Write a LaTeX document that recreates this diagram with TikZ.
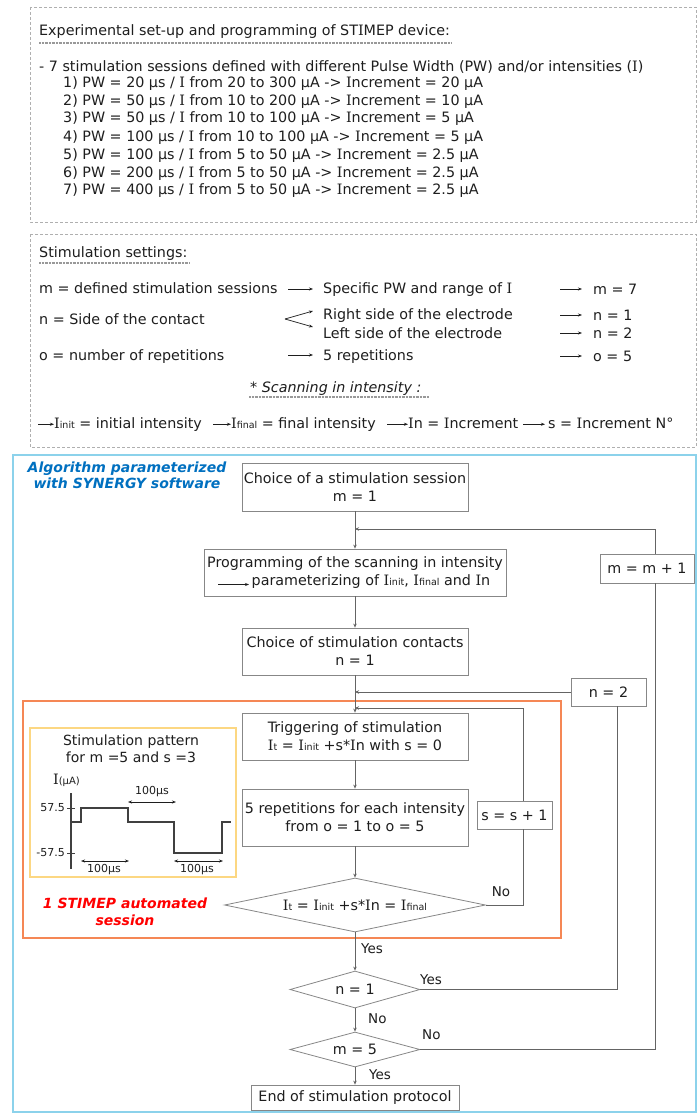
\documentclass[tikz,border=0pt]{standalone}
\usepackage{fontspec}
\setmainfont{DejaVu Sans}
\newfontfamily\serifI{DejaVu Serif}
\usetikzlibrary{arrows.meta,shapes.geometric,calc}
\definecolor{txt}{RGB}{30,30,30}
\definecolor{boxgray}{RGB}{135,135,135}
\definecolor{linegray}{RGB}{100,100,100}
\definecolor{dashgray}{RGB}{175,175,175}
\definecolor{skyb}{RGB}{140,210,235}
\definecolor{orng}{RGB}{245,135,85}
\definecolor{yell}{RGB}{252,215,130}
\definecolor{algblue}{RGB}{0,112,192}
\newcommand\fs{\fontsize{14.3}{18}\selectfont}
\newcommand\VI{{\serifI I}}
\newcommand\Isub[1]{\VI{\fontsize{9.5}{11}\selectfont #1}}
\begin{document}
\begin{tikzpicture}[x=1pt,y=-1pt,
  txtn/.style={anchor=base west,inner sep=0pt,font=\fs,text=txt,text height=10.5pt,text depth=3pt},
  fbox/.style={draw=boxgray,line width=0.8pt,font=\fs,text=txt,align=center,inner sep=0pt},
  fdia/.style={diamond,draw=boxgray,line width=0.8pt,font=\fs,text=txt,inner sep=0pt},
  conn/.style={draw=linegray,line width=0.8pt},
  arr/.style={conn,-{Stealth[length=4pt,width=3.5pt]}},
  sarr/.style={draw=txt,line width=0.7pt,-{Stealth[length=4pt,width=3pt]}},
  darr/.style={draw=txt,line width=0.7pt,{Stealth[length=4pt,width=3pt]}-{Stealth[length=4pt,width=3pt]}},
  dbox/.style={draw=dashgray,line width=0.7pt,dash pattern=on 3pt off 2pt},
  uline/.style={draw=gray!80,line width=1.3pt,dash pattern=on 0.8pt off 0.6pt},
  lbl/.style={inner sep=0pt,font=\fontsize{13.5}{16}\selectfont,text=txt},
  small/.style={inner sep=0pt,font=\fontsize{11}{13}\selectfont,text=txt}
]
\useasboundingbox (0,0) rectangle (697,1113);
\fill[white] (0,0) rectangle (697,1113);

% ---------- box 1
\draw[dbox] (30,7) rectangle (696,222);
\node[txtn] (h1) at (39,36) {Experimental set-up and programming of ST\VI MEP device:};
\draw[uline] (39,43) -- (451,43);
\node[txtn] (l0) at (39,72) {- 7 stimulation sessions defined with different Pulse Width (PW) and/or intensities (\VI)};
\node[txtn] (l1) at (63,88) {1) PW = 20 µs / \VI{} from 20 to 300 µA -> \VI ncrement = 20 µA};
\node[txtn] (l2) at (63,106) {2) PW = 50 µs / \VI{} from 10 to 200 µA -> \VI ncrement = 10 µA};
\node[txtn] (l3) at (63,123) {3) PW = 50 µs / \VI{} from 10 to 100 µA -> \VI ncrement = 5 µA};
\node[txtn] (l4) at (63,141) {4) PW = 100 µs / \VI{} from 10 to 100 µA -> \VI ncrement = 5 µA};
\node[txtn] (l5) at (63,159) {5) PW = 100 µs / \VI{} from 5 to 50 µA -> \VI ncrement = 2.5 µA};
\node[txtn] (l6) at (63,177) {6) PW = 200 µs / \VI{} from 5 to 50 µA -> \VI ncrement = 2.5 µA};
\node[txtn] (l7) at (63,194) {7) PW = 400 µs / \VI{} from 5 to 50 µA -> \VI ncrement = 2.5 µA};

% ---------- box 2
\draw[dbox] (30,234) rectangle (696,447);
\node[txtn] (s0) at (39,257) {Stimulation settings:};
\draw[uline] (39,263) -- (189,263);
\node[txtn] (m0) at (39,293) {m = defined stimulation sessions};
\node[txtn] (m1) at (323,293) {Specific PW and range of \VI};
\node[txtn] (m2) at (593,294) {m = 7};
\node[txtn] (n0) at (39,324) {n = Side of the contact};
\node[txtn] (n1) at (323,319) {Right side of the electrode};
\node[txtn] (n2t) at (323,338) {Left side of the electrode};
\node[txtn] (n3) at (593,320) {n = 1};
\node[txtn] (n4) at (593,338) {n = 2};
\node[txtn] (o0) at (39,360) {o = number of repetitions};
\node[txtn] (o1) at (323,360) {5 repetitions};
\node[txtn] (o2) at (593,361) {o = 5};
\draw[sarr] (288,289) -- (313,289);
\coordinate (fv) at (285,319);
\draw[sarr] (fv) -- (313,311);
\draw[sarr] (fv) -- (313,327);
\draw[sarr] (288,355) -- (313,355);
\draw[sarr] (560,289) -- (582,289);
\draw[sarr] (560,315) -- (582,315);
\draw[sarr] (560,333) -- (582,333);
\draw[sarr] (560,356) -- (582,356);
\node[txtn,font=\fs\itshape] (sc) at (250,392) {* Scanning in intensity :};
\draw[uline] (249,397) -- (429,397);
\node[txtn] (r1) at (54,428) {\Isub{init} = initial intensity};
\node[txtn] (r2) at (231,428) {\Isub{final} = final intensity};
\node[txtn] (r3) at (408,428) {\VI n = \VI ncrement};
\node[txtn] (r4) at (548,428) {s = \VI ncrement N°};
\draw[sarr] ([xshift=-16pt]r1.west) -- (r1.west);
\draw[sarr] ([xshift=-18pt]r2.west) -- (r2.west);
\draw[sarr] ([xshift=-21pt]r3.west) -- (r3.west);
\draw[sarr] ([xshift=-25pt]r4.west) -- ([xshift=-3pt]r4.west);

% ---------- flowchart frame
\draw[skyb,line width=1.6pt] (13,455) rectangle (696,1112);
\node[font=\fontsize{14}{16}\selectfont\bfseries\itshape,text=algblue,align=center,inner sep=0pt] (alg) at (127,475) {Algorithm parameterized\\with SYNERGY software};

\node[fbox,minimum width=226pt,minimum height=48pt] (A) at (355,487) {Choice of a stimulation session\\m = 1};
\node[fbox,minimum width=302pt,minimum height=47pt] (B) at (355,572.5) {Programming of the scanning in intensity\\\hspace*{32pt}parameterizing of \Isub{init}, \Isub{final} and \VI n};
\draw[sarr] ($(B.center)+(-137,12)$) -- ($(B.center)+(-106,12)$);
\node[fbox,minimum width=226pt,minimum height=47pt] (C) at (355,651.5) {Choice of stimulation contacts\\n = 1};
\node[fbox,minimum width=94pt,minimum height=29pt] (mm) at (647,568.5) {m = m + 1};
\node[fbox,minimum width=75pt,minimum height=28pt] (n2) at (608.5,692) {n = 2};

% orange session frame
\draw[orng,line width=1.8pt] (23,701) rectangle (561,938);
\node[font=\fontsize{14}{17}\selectfont\bfseries\itshape,text=red,align=center,inner sep=0pt] (red) at (125,911.5) {1 STIMEP automated\\session};

\node[fbox,minimum width=226pt,minimum height=47pt] (T) at (355,736.5) {Triggering of stimulation\\\Isub{t} = \Isub{init} +s*\VI n with s = 0};
\node[fbox,minimum width=226pt,minimum height=57pt] (R) at (355,817.5) {5 repetitions for each intensity\\from o = 1 to o = 5};
\node[fbox,minimum width=75pt,minimum height=28pt] (ss) at (514.5,815) {s = s + 1};
\node[fdia,aspect=4.8,minimum width=261pt,minimum height=54pt] (d1) at (355,905) {\Isub{t} = \Isub{init} +s*\VI n = \Isub{final}};
\node[fdia,aspect=3.5,minimum width=130pt,minimum height=37pt] (d2) at (355,989.5) {n = 1};
\node[fdia,aspect=3.7,minimum width=130pt,minimum height=35pt] (d3) at (355,1049.5) {m = 5};
\node[fbox,minimum width=208pt,minimum height=25pt] (E) at (355,1097.5) {End of stimulation protocol};

% stimulation pattern
\draw[yell,line width=1.6pt] (30,728) rectangle (236,877);
\node[font=\fontsize{14}{17}\selectfont,text=txt,align=center,inner sep=0pt] (pt) at (131,748.5) {Stimulation pattern\\for m =5 and s =3};
\node[txtn] (ia) at (53,784) {\VI{\fontsize{10}{12}\selectfont(µA)}};
\draw[txt!85,line width=1.2pt] (71,793) -- (71,869);
\draw[txt!85,line width=1pt] (67,808) -- (75,808);
\draw[txt!85,line width=1pt] (67,853) -- (75,853);
\node[small,anchor=east] (t1) at (65,808) {57.5};
\node[small,anchor=east] (t2) at (65,853) {-57.5};
\draw[txt!85,line width=1.2pt] (71,822) -- (81,822) -- (81,808) -- (128,808) -- (128,822) -- (174,822) -- (174,853) -- (222,853) -- (222,822) -- (231,822);
\draw[darr] (128,802) -- (176,802);
\node[small] (w1) at (152,792) {100µs};
\draw[darr] (81,861) -- (129,861);
\node[small] (w2) at (104,870) {100µs};
\draw[darr] (174,861) -- (223,861);
\node[small] (w3) at (197,870) {100µs};

% connectors
\coordinate (j1) at (355,529);
\coordinate (j2) at (355,692);
\coordinate (j3) at (355,708);
\coordinate (mx) at (655,0);
\coordinate (nx) at (617,0);
\coordinate (sx) at (523,0);
\draw[arr] (A) -- (B);
\draw[arr] (mm.north -| mx) |- (j1);
\draw[arr] (B) -- (C);
\draw[arr] (C) -- (T);
\draw[arr] (n2.west) -- (j2);
\draw[arr] (ss.north -| sx) |- (j3);
\draw[arr] (T) -- (R);
\draw[arr] (R) -- (d1);
\draw[conn] (d1.east) -| (ss.south -| sx);
\draw[arr] (d1) -- (d2);
\draw[conn] (d2.east) -| (n2.south -| nx);
\draw[arr] (d2) -- (d3);
\draw[conn] (d3.east) -| (mm.south -| mx);
\draw[arr] (d3) -- (E);

\node[lbl,anchor=west] (y1) at (361,949) {Yes};
\node[lbl,anchor=west] (y2) at (420,980) {Yes};
\node[lbl,anchor=west] (no2) at (368,1019) {No};
\node[lbl,anchor=west] (no3) at (422,1035) {No};
\node[lbl,anchor=west] (y3) at (369,1075) {Yes};
\node[lbl] (no1) at (501,892) {No};
\end{tikzpicture}
\end{document}
